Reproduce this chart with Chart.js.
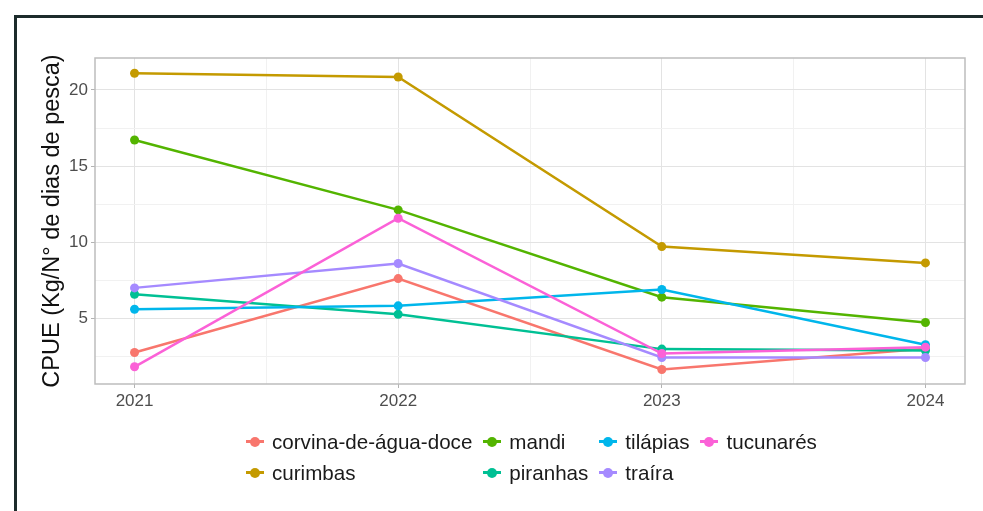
<!DOCTYPE html>
<html>
<head>
<meta charset="utf-8">
<script src="https://cdn.jsdelivr.net/npm/chart.js@4"></script>
<style>
    html, body { margin: 0; padding: 0; background: #fff; }
    #wrap { position: relative; width: 983px; height: 511px; overflow: hidden; }
    #frame { position: absolute; left: 14px; top: 15px; right: -10px; bottom: -10px; border-top: 3px solid #1c2b2b; border-left: 3px solid #1c2b2b; }
    canvas { position: absolute; left: 0; top: 0; }
    #legend { position: absolute; left: 246px; top: 426px; display: grid; grid-template-rows: 31px 31px; grid-auto-flow: column; column-gap: 11px; font-family: 'Liberation Sans', Arial, sans-serif; font-size: 20.6px; color: #1a1a1a; }
    .item { display: flex; align-items: center; white-space: nowrap; }
    .key { position: relative; width: 18px; height: 18px; margin-right: 8px; }
    .key .ln { position: absolute; left: 0; right: 0; top: 7.5px; height: 3px; }
    .key .pt { position: absolute; left: 4px; top: 4px; width: 10px; height: 10px; border-radius: 50%; }
</style>
</head>
<body>
<div id="wrap">
    <canvas id="cpueChart" width="983" height="511"></canvas>
    <div id="frame"></div>
    <div id="legend"></div>
</div>
<script>
// data
const years = [2021, 2022, 2023, 2024];
const seriesNames = ['corvina-de-água-doce', 'curimbas', 'mandi', 'piranhas', 'tilápias', 'traíra', 'tucunarés'];

const corvina = [2.77, 7.62, 1.65, 3.02];
const curimbas = [21.1, 20.85, 9.72, 8.65];
const mandi = [16.72, 12.13, 6.40, 4.74];
const piranhas = [6.59, 5.28, 2.99, 2.90];
const tilapias = [5.61, 5.83, 6.90, 3.28];
const traira = [7.01, 8.61, 2.44, 2.44];
const tucunares = [1.83, 11.58, 2.70, 3.12];

const seriesValues = [corvina, curimbas, mandi, piranhas, tilapias, traira, tucunares];
const seriesColors = ['#F8766D', '#C49A00', '#53B400', '#00C094', '#00B6EB', '#A58AFF', '#FB61D7'];

const yTicks = [5, 10, 15, 20];
const yMinor = [2.5, 7.5, 12.5, 17.5];
const xMinor = years.slice(1).map((y, i) => (y + years[i]) / 2);

const datasets = seriesNames.map((name, i) => {
    return {
        label: name,
        data: years.map((yr, j) => ({ x: yr, y: seriesValues[i][j] })),
        borderColor: seriesColors[i],
        backgroundColor: seriesColors[i],
        pointBackgroundColor: seriesColors[i],
        borderWidth: 2.5,
        pointRadius: 4.5,
        pointBorderWidth: 0,
        tension: 0,
        order: seriesNames.length - i
    };
});

const panelBorder = {
    id: 'panelBorder',
    afterDatasetsDraw(chart) {
        const { ctx, chartArea: a } = chart;
        ctx.save();
        ctx.strokeStyle = '#bdbdbd';
        ctx.lineWidth = 1.5;
        ctx.strokeRect(a.left, a.top, a.right - a.left, a.bottom - a.top);
        ctx.restore();
    }
};

const tickFont = { family: "'Liberation Sans', Arial, sans-serif", size: 17 };

new Chart(document.getElementById('cpueChart').getContext('2d'), {
    type: 'line',
    data: { datasets: datasets },
    plugins: [panelBorder],
    options: {
        responsive: false,
        animation: false,
        devicePixelRatio: 1,
        layout: { padding: { top: 58, right: 18, left: 0, bottom: 0 } },
        plugins: { legend: { display: false }, tooltip: { enabled: false } },
        scales: {
            x: {
                type: 'linear',
                min: 2020.85,
                max: 2024.15,
                afterBuildTicks: scale => {
                    scale.ticks = [...years, ...xMinor].sort((a, b) => a - b).map(v => ({ value: v }));
                },
                afterFit: scale => { scale.height = 127; },
                ticks: {
                    autoSkip: false,
                    maxRotation: 0,
                    padding: 3,
                    color: '#4d4d4d',
                    font: tickFont,
                    callback: v => years.includes(v) ? String(v) : ''
                },
                grid: {
                    color: ctx => ctx.tick && years.includes(ctx.tick.value) ? '#e3e3e3' : '#f1f1f1',
                    tickColor: ctx => ctx.tick && years.includes(ctx.tick.value) ? '#b3b3b3' : 'rgba(0,0,0,0)',
                    tickLength: 4
                },
                border: { display: false }
            },
            y: {
                min: 0.7,
                max: 22.1,
                afterBuildTicks: scale => {
                    scale.ticks = [...yMinor, ...yTicks].sort((a, b) => a - b).map(v => ({ value: v }));
                },
                afterFit: scale => { scale.width = 95; },
                ticks: {
                    autoSkip: false,
                    padding: 3,
                    color: '#4d4d4d',
                    font: tickFont,
                    callback: v => yTicks.includes(v) ? String(v) : ''
                },
                grid: {
                    color: ctx => ctx.tick && yTicks.includes(ctx.tick.value) ? '#e3e3e3' : '#f1f1f1',
                    tickColor: ctx => ctx.tick && yTicks.includes(ctx.tick.value) ? '#b3b3b3' : 'rgba(0,0,0,0)',
                    tickLength: 4
                },
                border: { display: false },
                title: {
                    display: true,
                    text: 'CPUE (Kg/N° de dias de pesca)',
                    color: '#111',
                    font: { family: "'Liberation Sans', Arial, sans-serif", size: 23.5 },
                    padding: { top: 38, bottom: 0 }
                }
            }
        }
    }
});

// legend laid out like ggplot: two rows, filled by column
const legend = document.getElementById('legend');
seriesNames.forEach((name, i) => {
    const item = document.createElement('div');
    item.className = 'item';
    item.innerHTML = '<span class="key"><span class="ln" style="background:' + seriesColors[i] + '"></span>' +
        '<span class="pt" style="background:' + seriesColors[i] + '"></span></span><span>' + name + '</span>';
    legend.appendChild(item);
});
</script>
</body>
</html>
